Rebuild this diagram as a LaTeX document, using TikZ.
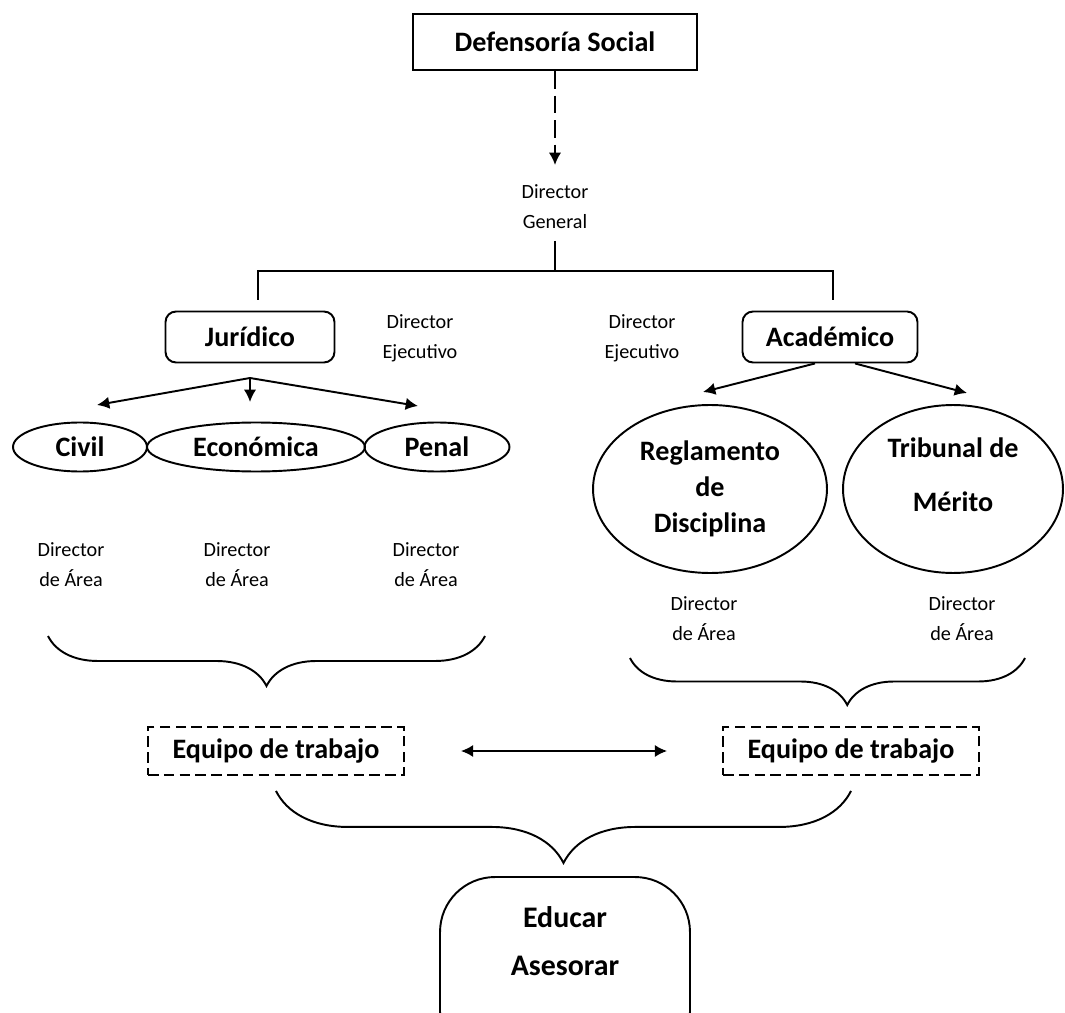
\documentclass[tikz,border=0pt]{standalone}
\usepackage{fontspec}
\setmainfont{Carlito}
\usetikzlibrary{shapes.geometric,decorations.pathreplacing,arrows.meta}

\tikzset{
  unit/.style={font=\fontsize{16}{20.5}\selectfont\bfseries, align=center},
  rolename/.style={font=\fontsize{11.5}{17}\selectfont, align=center, inner sep=0pt},
  branchbox/.style={unit, draw, rounded corners=6pt, minimum height=1.02cm},
  area/.style={unit, draw, ellipse, inner sep=0pt},
  team/.style={unit, draw, dash pattern=on 6pt off 3pt, minimum width=5.12cm, minimum height=0.96cm},
  brace down/.style={decorate, decoration={brace, mirror, amplitude=#1}}
}

\begin{document}
\begin{tikzpicture}[x=0.02cm, y=-0.02cm, line width=1.1pt, >={Latex[length=7pt,width=7pt]}]
      \useasboundingbox (0,0) rectangle (1065,1013);
      % top of the chart
      \node[unit, draw, minimum width=5.68cm, minimum height=1.12cm] (def) at (555,42) {Defensoría Social};
      \node[rolename] (dirgen) at (555,207) {Director\\General};
      \coordinate (dgin) at (555,165);
      \draw[->, dash pattern=on 10pt off 4pt] (def) -- (dgin);
      \coordinate (hub) at (555,271);
      \coordinate (jtop) at (258,300);
      \coordinate (atop) at (833,300);
      \draw ([yshift=-0.22cm]dirgen.south) -- (hub);
      \draw (jtop) |- (hub) -| (atop);
      % two branches
      \node[branchbox, minimum width=3.38cm] (jur) at (250,337) {Jurídico};
      \node[branchbox, minimum width=3.5cm] (acad) at (830,337) {Académico};
      \node[rolename] (ejL) at (420,338) {Director\\Ejecutivo};
      \node[rolename] (ejR) at (642,338) {Director\\Ejecutivo};
      % juridico areas
      \node[area, minimum width=2.68cm, minimum height=0.98cm] (civil) at (80,447) {Civil};
      \node[area, minimum width=4.36cm, minimum height=0.98cm] (econ) at (256,447) {Económica};
      \node[area, minimum width=2.9cm, minimum height=0.98cm] (penal) at (437,447) {Penal};
      \coordinate (jfork) at (250,378);
      \coordinate (civin) at (97,405);
      \coordinate (econin) at (250,402);
      \coordinate (penin) at (418,406);
      \begin{scope}[->]
        \draw (jfork) -- (civin);
        \draw (jfork) -- (econin);
        \draw (jfork) -- (penin);
      \end{scope}
      % academico areas
      \node[area, minimum width=4.68cm, minimum height=3.36cm] (regl) at (710,489) {Reglamento\\de\\Disciplina};
      \node[area, minimum width=4.4cm, minimum height=3.36cm] (trib) at (953,489) {Tribunal de\\[10pt]Mérito\\[-4pt]\mbox{}};
      \coordinate (reglin) at (703,392);
      \coordinate (tribin) at (967,393);
      \begin{scope}[->]
        \draw ([xshift=-0.3cm]acad.south) -- (reglin);
        \draw ([xshift=0.5cm]acad.south) -- (tribin);
      \end{scope}
      % area directors
      \node[rolename] (daC) at (71,565) {Director\\de Área};
      \node[rolename] (daE) at (237,565) {Director\\de Área};
      \node[rolename] (daP) at (426,565) {Director\\de Área};
      \node[rolename] (daR) at (704,619) {Director\\de Área};
      \node[rolename] (daT) at (962,619) {Director\\de Área};
      % braces and teams
      \coordinate (lbl) at (48,636);
      \coordinate (lbr) at (485,636);
      \coordinate (rbl) at (630,658);
      \coordinate (rbr) at (1025,658);
      \draw[brace down=1cm] (lbl) -- (lbr);
      \draw[brace down=0.94cm, decoration={aspect=0.55}] (rbl) -- (rbr);
      \node[team] (eqL) at (276,751) {Equipo de trabajo};
      \node[team] (eqR) at (851,751) {Equipo de trabajo};
      \draw[<->] ([xshift=1.12cm]eqL.east) -- ([xshift=-1.1cm]eqR.west);
      \draw[brace down=1.44cm] ([yshift=-0.3cm]eqL.south) -- ([yshift=-0.3cm]eqR.south);
      % goal
      \node[draw, rounded corners=1.1cm, minimum width=5cm, minimum height=3.8cm] (goal) at (565,972) {};
      \node[font=\fontsize{17}{27}\selectfont\bfseries, align=center] (goaltxt) at (565,941) {Educar\\Asesorar};
    \end{tikzpicture}
\end{document}
